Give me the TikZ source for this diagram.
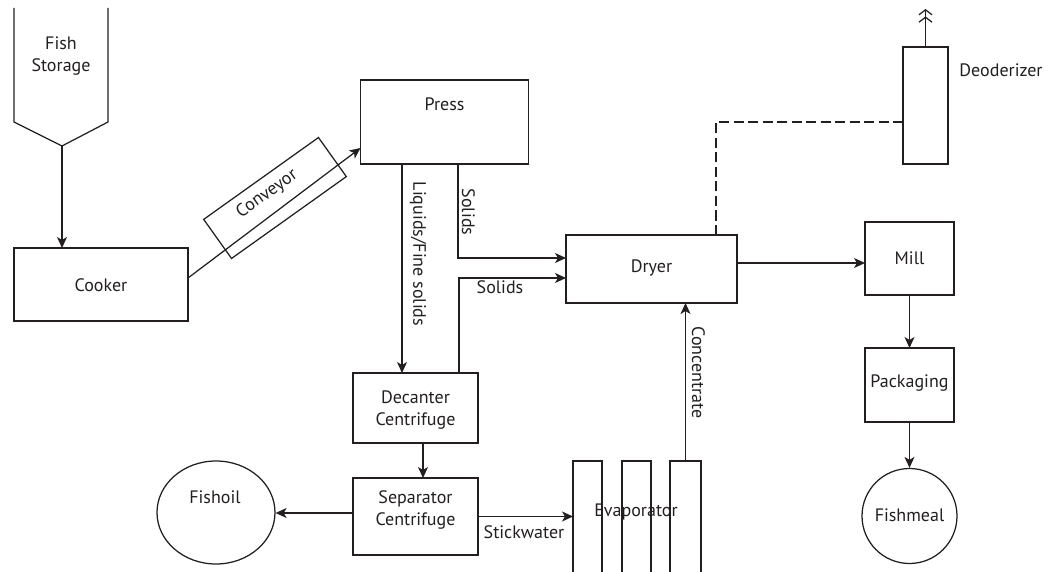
\documentclass[tikz,border=0pt]{standalone}
\usepackage{fontspec}
\setmainfont{PT Sans}
\usetikzlibrary{arrows.meta,shapes.geometric,calc}
\definecolor{ink}{RGB}{35,31,32}
\begin{document}
\begin{tikzpicture}[x=1pt,y=-1pt,
  line width=1.25pt, color=ink,
  box/.style={draw=ink, rectangle, inner sep=0pt, outer sep=0pt},
  arr/.style={-{Stealth[length=11pt,width=10pt,inset=3pt]}},
  exh/.style={-{Straight Barb[length=5pt,width=13pt,sep=1pt]Straight Barb[length=5pt,width=13pt]}},
  dashline/.style={dash pattern=on 10pt off 4.5pt},
  lbl/.style={font=\fontsize{18}{22}\selectfont, text=ink, inner sep=0pt, align=center},
  ]
\useasboundingbox (0,0) rectangle (1049,572);

% Fish storage
\draw (14,8) -- (14,122) -- (62,146) coordinate (fsb) -- (108,122) -- (108,8);
\node[lbl] (fst) at (61,56) {Fish\\Storage};

% boxes
\node[box, minimum width=174pt, minimum height=73pt] (cooker) at (101,284.5) {};
\node[lbl] (cookert) at (101,285) {Cooker};
\node[box, minimum width=168pt, minimum height=84pt] (press) at (444.5,122) {};
\node[lbl] (presst) at (444.5,104) {Press};
\node[box, minimum width=171pt, minimum height=68pt] (dryer) at (651.5,269) {};
\node[lbl] (dryert) at (651.5,268) {Dryer};
\node[box, minimum width=45pt, minimum height=117pt] (deo) at (925.5,105.5) {};
\node[lbl] (deot) at (1001,70) {Deoderizer};
\node[box, minimum width=89pt, minimum height=73pt] (mill) at (909.5,258.5) {};
\node[lbl] (millt) at (909.5,258) {Mill};
\node[box, minimum width=89pt, minimum height=74pt] (pack) at (909.5,385) {};
\node[lbl] (packt) at (909.5,383) {Packaging};
\node[draw=ink, circle, minimum size=95pt, inner sep=0pt] (fishmeal) at (909.5,516) {};
\node[lbl] (fishmealt) at (909.5,515) {Fishmeal};
\node[box, minimum width=125pt, minimum height=70pt] (decanter) at (415.5,408) {};
\node[lbl] (decantert) at (415.5,410) {Decanter\\Centrifuge};
\node[box, minimum width=125pt, minimum height=77pt] (sep) at (415.5,516.5) {};
\node[lbl] (sept) at (415.5,510) {Separator\\Centrifuge};
\node[draw=ink, ellipse, minimum width=118pt, minimum height=103pt, inner sep=0pt] (fishoil) at (216,512.5) {};
\node[lbl] (fishoilt) at (215,497) {Fishoil};

% conveyor
\node[box, minimum width=141pt, minimum height=48pt, rotate=35.5] (conv) at (275,198) {};
\node[lbl, rotate=35.5] (convt) at (267,194) {Conveyor};

% evaporator
\draw (573,573) -- (573,461) coordinate (ev1) -- (602,461) -- (602,573);
\draw (622,573) -- (622,461) -- (651,461) -- (651,573);
\draw (670,573) -- (670,461) -- (701,461) -- (701,573);
\coordinate (ev3t) at (685.5,461);
\node[lbl] (evt) at (636,512) {Evaporator};

% connectors
\draw[arr] (fsb) -- (fsb |- cooker.north);
\draw[arr] ([yshift=6.5pt]cooker.east) -- ([yshift=-26pt]press.west);
\draw[arr] ([xshift=-42.5pt]press.south) -- ([xshift=-42.5pt]press.south |- decanter.north);
\node[lbl, rotate=-90] (liqt) at (418,254) {Liquids/Fine solids};
\draw[arr] ([xshift=13.5pt]press.south) |- ([yshift=11pt]dryer.west);
\node[lbl, rotate=-90] (sol1t) at (468.5,212) {Solids};
\draw[arr] ([xshift=43.5pt]decanter.north) |- ([yshift=-9pt]dryer.west);
\node[lbl] (sol2t) at (500,287) {Solids};
\draw[dashline] ([xshift=64.5pt]dryer.north) |- ([yshift=-16.5pt]deo.west);
\coordinate (exhtop) at (925.5,9);
\draw[exh] (deo.north) -- (exhtop);
\draw[arr] ([yshift=6pt]dryer.east) -- ([yshift=6pt]dryer.east -| mill.west);
\draw[arr] (mill.south) -- (pack.north);
\draw[arr] (pack.south) -- (fishmeal.north);
\draw[arr] ([xshift=7.5pt]decanter.south) -- ([xshift=7.5pt]decanter.south |- sep.north);
\draw[arr] ([yshift=3.5pt]sep.west) -- ([yshift=3.5pt]sep.west -| fishoil.east);
\draw[arr] (sep.east) -- (sep.east -| ev1);
\node[lbl] (stickt) at (524,532) {Stickwater};
\draw[arr] (ev3t) -- (ev3t |- dryer.south);
\node[lbl, rotate=-90] (conct) at (698.5,372.5) {Concentrate};
\end{tikzpicture}
\end{document}
